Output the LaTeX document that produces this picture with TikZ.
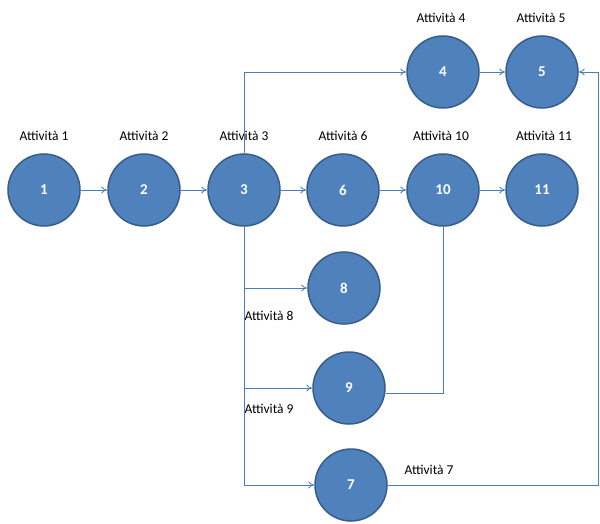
\documentclass[tikz,border=0pt]{standalone}
\usepackage{fontspec}
\setmainfont{Carlito}
\usetikzlibrary{arrows.meta}
\definecolor{cfill}{HTML}{4F81BD}
\definecolor{cedge}{HTML}{385D8A}
\definecolor{cline}{HTML}{4A7EBB}
\begin{document}
\begin{tikzpicture}[x=1pt,y=-1pt,
  act/.style={circle,minimum size=72pt,inner sep=0pt,fill=cfill,draw=cedge,line width=1.5pt,text=white,font=\fontsize{15}{18}\selectfont\bfseries},
  lab/.style={font=\fontsize{13.5}{16}\selectfont,text=black},
  con/.style={draw=cline,line width=0.8pt,-{To[length=6pt,width=7pt]}}]
\useasboundingbox (0,0) rectangle (600,524);
\node[act] (n1) at (44,190) {1};
\node[act] (n2) at (144,190) {2};
\node[act] (n3) at (244,190) {3};
\node[act] (n6) at (343,190) {6};
\node[act] (n10) at (443,190) {10};
\node[act] (n11) at (542,190) {11};
\node[act] (n4) at (443,72) {4};
\node[act] (n5) at (542,72) {5};
\node[act] (n8) at (344,288) {8};
\node[act] (n9) at (349,388) {9};
\node[act] (n7) at (351,485) {7};
\node[lab] (l1) at (44,136) {Attività 1};
\node[lab] (l2) at (144,136) {Attività 2};
\node[lab] (l3) at (244,136) {Attività 3};
\node[lab] (l6) at (343,136) {Attività 6};
\node[lab] (l10) at (441,136) {Attività 10};
\node[lab] (l11) at (544,136) {Attività 11};
\node[lab] (l4) at (441,18) {Attività 4};
\node[lab] (l5) at (541,18) {Attività 5};
\node[lab] (l8) at (269,316) {Attività 8};
\node[lab] (l9) at (269,409) {Attività 9};
\node[lab] (l7) at (429,470) {Attività 7};
\coordinate (c3t) at (244,72);
\coordinate (c3b) at (244,485);
\coordinate (c9r) at (443,393);
\coordinate (c7r) at (598,485);
\coordinate (c5r) at (598,72);
\draw[con] (n1) -- (n2);
\draw[con] (n2) -- (n3);
\draw[con] (n3) -- (n6);
\draw[con] (n6) -- (n10);
\draw[con] (n10) -- (n11);
\draw[con] (n4) -- (n5);
\draw[con] (n3.north) -- (c3t) -- (n4.west);
\draw[draw=cline,line width=0.8pt] (n3.south) -- (c3b);
\draw[con] (244,288) -- (n8.west);
\draw[con] (244,388) -- (n9.west);
\draw[con] (c3b) -- (n7.west);
\draw[draw=cline,line width=0.8pt] (n9.east |- c9r) -- (c9r) -- (n10.south);
\draw[con] (n7.east) -- (c7r) -- (c5r) -- (n5.east);
\end{tikzpicture}
\end{document}
